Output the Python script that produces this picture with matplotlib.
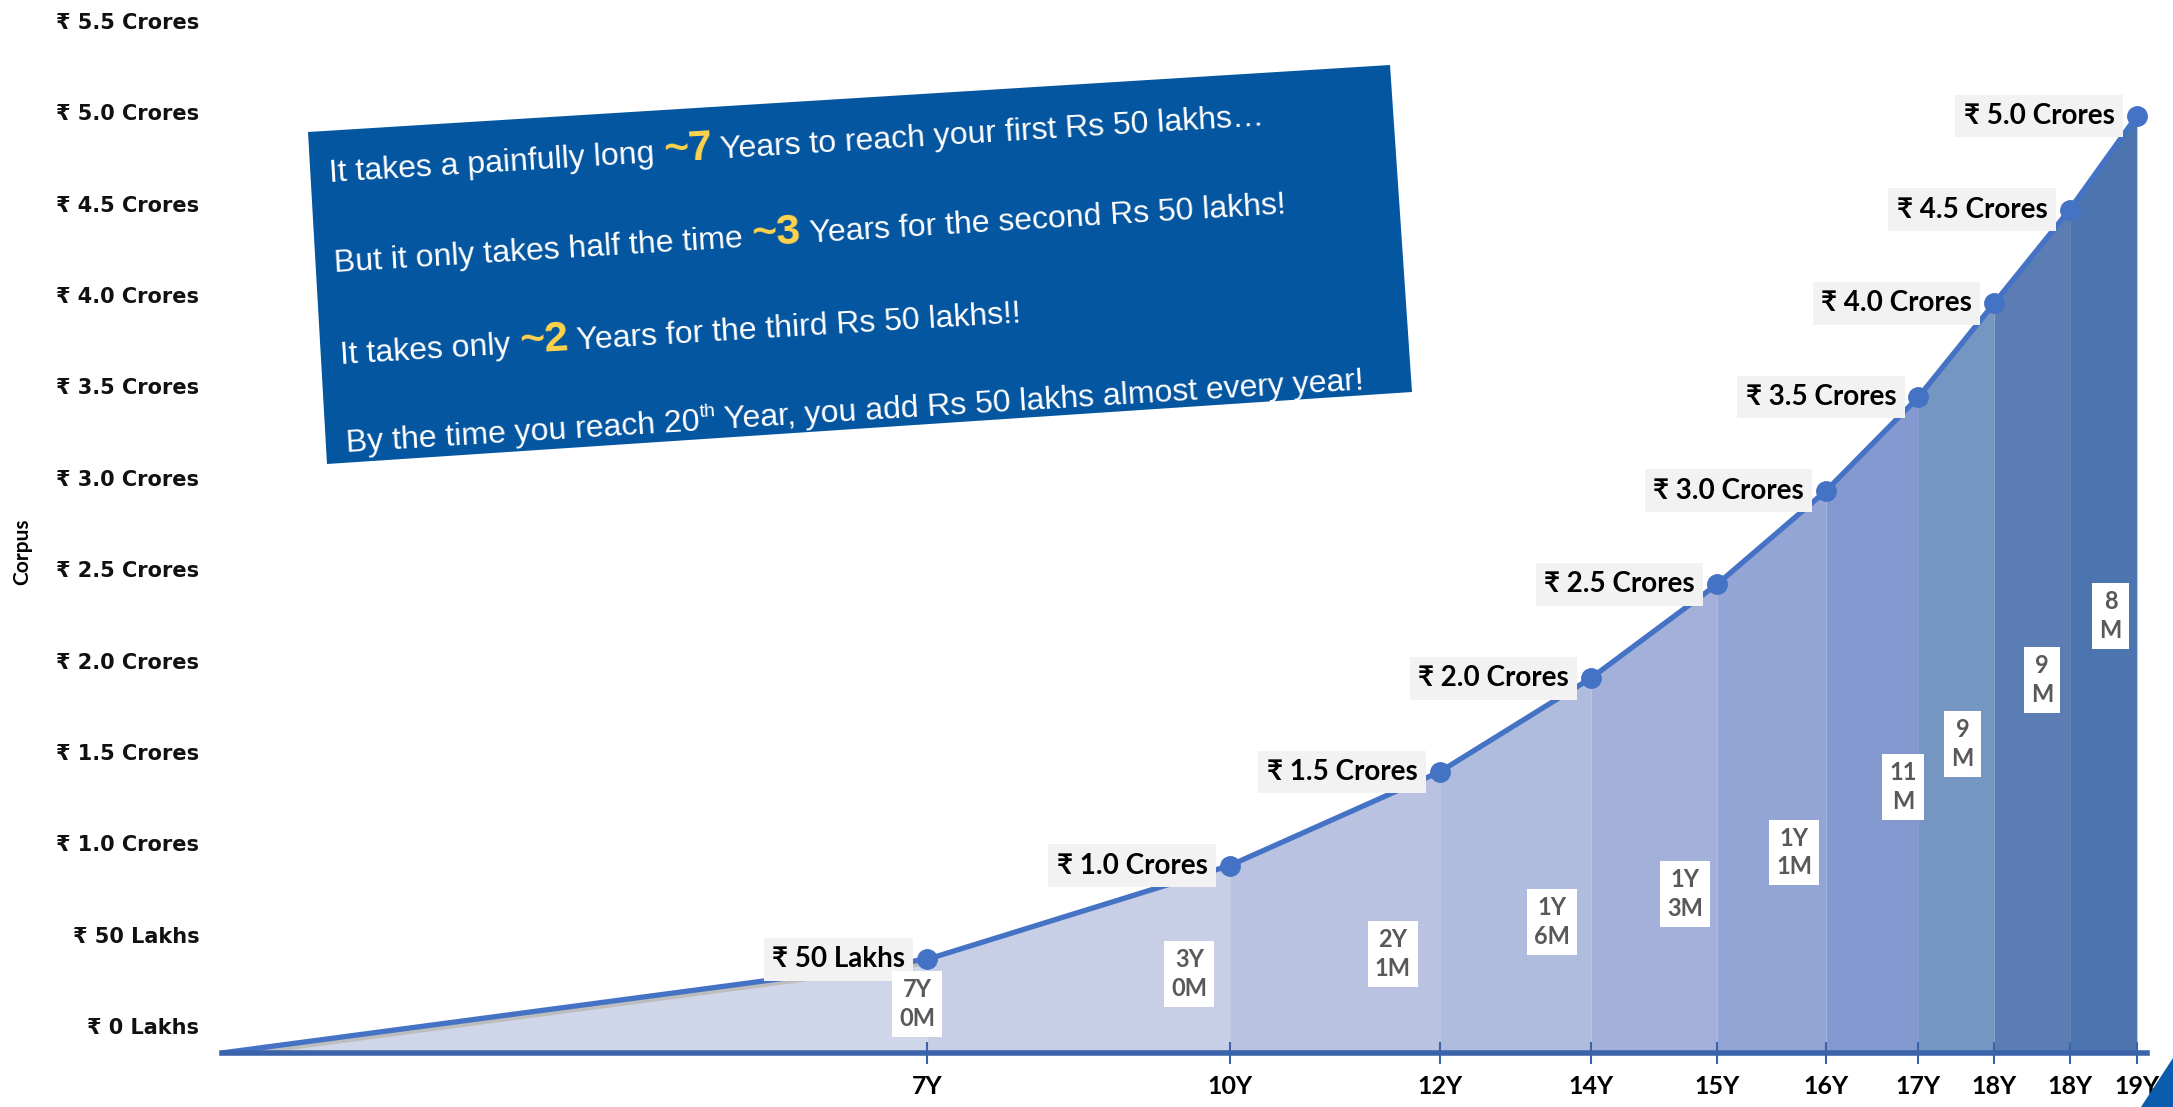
import numpy as np
import matplotlib
matplotlib.use('Agg')
import matplotlib.pyplot as plt
from matplotlib.patches import Polygon
import matplotlib.transforms as mtransforms

# cumulative months needed to reach each Rs 50 lakh milestone
months = [84, 120, 145, 163, 178, 191, 202, 211, 220, 228]
corpus_cr = [0.5, 1.0, 1.5, 2.0, 2.5, 3.0, 3.5, 4.0, 4.5, 5.0]
point_labels = ['₹ 50 Lakhs', '₹ 1.0 Crores', '₹ 1.5 Crores', '₹ 2.0 Crores', '₹ 2.5 Crores',
                '₹ 3.0 Crores', '₹ 3.5 Crores', '₹ 4.0 Crores', '₹ 4.5 Crores', '₹ 5.0 Crores']
x_labels = ['7Y', '10Y', '12Y', '14Y', '15Y', '16Y', '17Y', '18Y', '18Y', '19Y']
gap_labels = ['7Y\n0M', '3Y\n0M', '2Y\n1M', '1Y\n6M', '1Y\n3M', '1Y\n1M', '11\nM', '9\nM', '9\nM', '8\nM']
y_values = [0, 0.5, 1.0, 1.5, 2.0, 2.5, 3.0, 3.5, 4.0, 4.5, 5.0, 5.5]
y_labels = ['₹ 0 Lakhs', '₹ 50 Lakhs', '₹ 1.0 Crores', '₹ 1.5 Crores', '₹ 2.0 Crores', '₹ 2.5 Crores',
            '₹ 3.0 Crores', '₹ 3.5 Crores', '₹ 4.0 Crores', '₹ 4.5 Crores', '₹ 5.0 Crores', '₹ 5.5 Crores']

# where the little duration boxes sit (years, crores)
gap_pos = [(6.9, 0.26), (9.6, 0.42), (11.62, 0.53), (13.2, 0.70), (14.52, 0.85),
           (15.6, 1.07), (16.68, 1.42), (17.27, 1.65), (18.06, 1.99), (18.74, 2.33)]

fill_colors = ['#D0D6E9', '#C9CEE7', '#B9C3E1', '#AFBCDE', '#A3B1DA',
               '#92A5D4', '#8399D0', '#7596C2', '#5C7DB4', '#4C74AF']

LINE = '#4472C4'
AXIS = '#3A63AA'
W, H = 2173, 1107
CAL = ['Lato', 'DejaVu Sans']


def text_width(fig, r, s, **kw):
    # width incl. spaces: measure between two bars
    t1 = fig.text(0, 0, '|' + s + '|', **kw)
    t2 = fig.text(0, 0, '||', **kw)
    w = t1.get_window_extent(r).width - t2.get_window_extent(r).width
    t1.remove()
    t2.remove()
    return w


def rich_line(fig, r, x0, y0, parts, angle):
    # x0, y0 in pixels from top-left of figure
    ca, sa = np.cos(np.radians(angle)), np.sin(np.radians(angle))
    yb = H - y0
    d = 0
    for s, kw, rise in parts:
        px = x0 + d * ca - rise * sa
        py = yb + d * sa + rise * ca
        fig.text(px / W, py / H, s, rotation=angle, rotation_mode='anchor',
                 ha='left', va='baseline', **kw)
        d += text_width(fig, r, s, **kw)


def main():
    fig = plt.figure(figsize=(W / 100, H / 100), dpi=100)
    ax = fig.add_axes([0.102, 0.0488, 0.886, 0.948])
    ax.set_xlim(0, 19.1)
    ax.set_ylim(0, 5.6)

    years = np.array(months) / 12.0
    xs = np.concatenate([[0], years])
    ys = np.concatenate([[0], corpus_cr])

    # shaded blocks between milestones
    for i in range(len(years)):
        ax.fill_between(xs[i:i + 2], ys[i:i + 2], 0, color=fill_colors[i], lw=0, zorder=1)

    # soft shadow under first stretch
    shadow = mtransforms.offset_copy(ax.transData, fig=fig, x=0, y=-4, units='dots')
    ax.plot(xs[:2], ys[:2], color='#BDBDBD', lw=3, transform=shadow, zorder=2)

    ax.plot(xs, ys, color=LINE, lw=3.8, zorder=4, solid_capstyle='round')
    ax.plot(years, corpus_cr, 'o', ms=14, color=LINE, zorder=5)

    for x, y, lab in zip(years, corpus_cr, point_labels):
        ax.annotate(lab, (x, y), xytext=(-16, 0), textcoords='offset points',
                    ha='right', va='center', fontsize=20, fontweight='bold', family=CAL,
                    color='black', zorder=6,
                    bbox=dict(boxstyle='square,pad=0.3', fc='#F2F2F2', ec='none'))

    for (x, y), lab in zip(gap_pos, gap_labels):
        ax.text(x, y, lab, ha='center', va='center', fontsize=17, fontweight='bold',
                family=CAL, color='#595959', linespacing=1.3, zorder=6,
                bbox=dict(boxstyle='square,pad=0.3', fc='white', ec='none'))

    # axes styling
    for s in ['top', 'right', 'left']:
        ax.spines[s].set_visible(False)
    ax.spines['bottom'].set_color(AXIS)
    ax.spines['bottom'].set_linewidth(4)
    ax.spines['bottom'].set_zorder(7)
    ax.set_xticks(years)
    ax.set_xticklabels(x_labels, fontsize=18, fontweight='bold', family=CAL)
    ax.tick_params(axis='x', direction='inout', length=16, width=1.5, color=AXIS, pad=8)
    ax.set_yticks([])

    # corpus scale drawn as its own strip on the left, as in the original layout
    lab = fig.add_axes([0.102, 81 / H, 0.001, 1005 / H])
    lab.set_ylim(0, 5.5)
    lab.set_xticks([])
    for s in lab.spines.values():
        s.set_visible(False)
    lab.patch.set_visible(False)
    lab.set_yticks(y_values)
    lab.set_yticklabels(y_labels, fontsize=15, fontweight='bold', family='DejaVu Sans', color='#111111')
    lab.tick_params(axis='y', length=0, pad=16)

    fig.text(22 / W, 1 - 552 / H, 'Corpus', rotation=90, ha='center', va='center',
             fontsize=15, fontweight='bold', family=CAL)

    # rotated callout box
    corners = [(308, 132), (1390, 65), (1412, 392), (327, 464)]
    box = Polygon([(x / W, 1 - y / H) for x, y in corners], closed=True,
                  transform=fig.transFigure, fc='#0556A0', ec='none', zorder=10)
    fig.patches.append(box)

    r = fig.canvas.get_renderer()
    angle = 3.5
    wt = dict(fontsize=23, family='Liberation Sans', color='white', zorder=11)
    yl = dict(fontsize=31, family='Liberation Sans', fontweight='bold', color='#FFD34D', zorder=11)
    sp = dict(fontsize=14, family='Liberation Sans', color='white', zorder=11)
    lines = [
        ((330, 182), [("It takes a painfully long ", wt, 0), ("~7", yl, 0),
                      (" Years to reach your first Rs 50 lakhs…", wt, 0)]),
        ((335, 272), [("But it only takes half the time ", wt, 0), ("~3", yl, 0),
                      (" Years for the second Rs 50 lakhs!", wt, 0)]),
        ((341, 364), [("It takes only ", wt, 0), ("~2", yl, 0),
                      (" Years for the third Rs 50 lakhs!!", wt, 0)]),
        ((347, 452), [("By the time you reach 20", wt, 0), ("th", sp, 13),
                      (" Year, you add Rs 50 lakhs almost every year!", wt, 0)]),
    ]
    for (x0, y0), parts in lines:
        rich_line(fig, r, x0, y0, parts, angle)

    # corner decoration bottom right
    deco = Polygon([(2141 / W, 0), (1, 49 / H), (1, 0)], closed=True,
                   transform=fig.transFigure, fc='#0B5CAD', ec='none')
    fig.patches.append(deco)

    fig.savefig('out.png', dpi=100)


if __name__ == "__main__":
    main()
